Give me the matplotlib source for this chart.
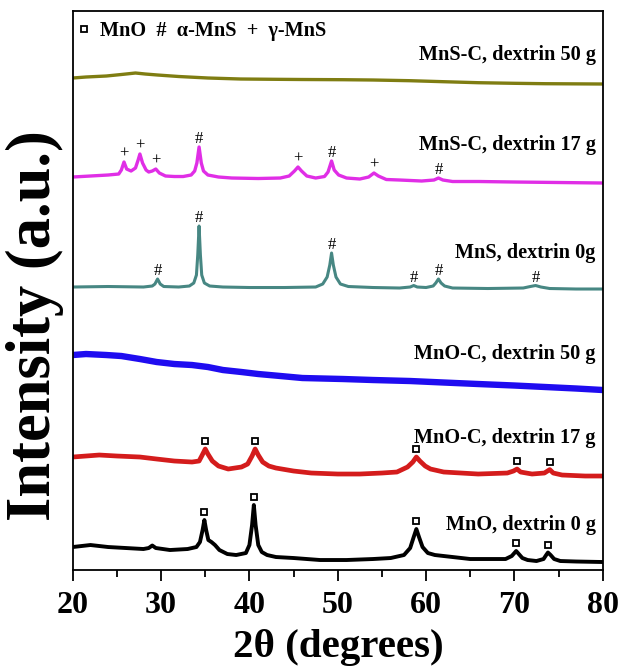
import numpy as np
import matplotlib
matplotlib.use("Agg")
import matplotlib.pyplot as plt
from matplotlib.ticker import MultipleLocator

plt.rcParams['font.family'] = ['Liberation Serif', 'DejaVu Serif']

mno_0_x = [20, 22, 24, 26, 28, 28.6, 29.0, 29.4, 31, 33, 34.0, 34.4, 34.7, 34.9, 35.1, 35.35,
           35.7, 36.1, 36.6, 37.5, 38.5, 39.6, 40.0, 40.3, 40.5, 40.7, 41.0, 41.4, 42.0, 43,
           45, 48, 51, 54, 56, 57.5, 58.2, 58.6, 58.9, 59.2, 59.6, 60.2, 61, 63, 65, 67, 69,
           69.7, 70.0, 70.2, 70.5, 70.9, 71.5, 72.5, 73.3, 73.6, 73.8, 74.1, 74.5, 75.2, 77, 80]
mno_0_y = [23, 25, 23, 22, 21, 22, 24.5, 22, 20, 21, 23, 28, 40, 50, 40, 30,
           28, 25, 20, 16, 15, 17, 25, 45, 65, 45, 25, 18, 15, 13,
           12, 10, 10, 11, 12, 15, 22, 33, 41, 33, 23, 17, 15, 13, 11, 11, 11,
           14, 17, 19, 16, 12, 10, 9, 11, 15, 17.5, 15, 11, 9, 8.5, 8]

mnoc_17_x = [20, 21.5, 23, 25, 27.6, 29.5, 31.5, 33.5, 34.3, 34.6, 35.0, 35.3, 35.8, 36.5,
             37.6, 39.1, 39.8, 40.3, 40.65, 41.0, 41.5, 42.2, 43, 45, 47, 50, 52.5, 55, 56.7,
             57.9, 58.5, 58.9, 59.3, 59.9, 60.5, 62, 65.9, 69.2, 69.9, 70.3, 70.7, 72, 73.4,
             74.0, 74.4, 75.4, 78, 80]
mnoc_17_y = [113, 114, 115, 114, 113, 111, 109, 108, 109, 114, 121, 116, 109, 104,
             101, 103, 106, 114, 121, 115, 108, 104, 102, 99, 97, 96, 96, 97, 98,
             103, 108, 113, 109, 104, 101, 98, 96, 97, 99, 101, 98, 96, 97,
             100.4, 97, 95, 94, 94]

mnoc_50_x = [20, 21.5, 23.8, 25.5, 27.6, 29.5, 31.5, 33.5, 35.3, 37, 39.1, 41, 42.9, 46,
             50.6, 54, 58.2, 62, 65.9, 70, 73.5, 77, 80]
mnoc_50_y = [215, 216, 215, 214, 211, 208, 206, 205, 203, 200, 198, 196, 194.5, 192,
             191, 190, 189, 187.5, 186, 184.5, 183, 181.5, 180]

mns_0_x = [20, 24, 28, 29.0, 29.3, 29.6, 29.9, 30.3, 32, 33.2, 33.7, 34.0, 34.15, 34.3, 34.45,
           34.6, 34.9, 35.5, 37, 40, 44, 47.5, 48.3, 48.8, 49.1, 49.3, 49.5, 49.8, 50.3, 51.2,
           54, 57, 58.2, 58.6, 59.0, 60, 60.8, 61.1, 61.4, 61.7, 62.1, 63, 67, 71, 71.8, 72.4,
           73.0, 74, 77, 80]
mns_0_y = [283, 283.5, 283, 284, 286, 291, 286, 283.5, 283, 284, 287, 295, 315, 344, 315,
           295, 287, 284, 283, 282.5, 282.5, 283, 286, 293, 305, 317, 305, 293, 286, 283.5,
           282.5, 282, 283, 284.5, 283, 282.5, 284, 287, 291, 287, 284, 282, 281.5, 282, 283.5, 284.5,
           283, 281.5, 281, 281]

mnsc_17_x = [20, 22, 24, 25.2, 25.5, 25.8, 26.1, 26.6, 27.1, 27.4, 27.6, 27.9, 28.3, 28.6, 29.0,
             29.4, 29.8, 30.5, 31.5, 32.5, 33.4, 33.8, 34.05, 34.3, 34.55, 34.8, 35.3, 36.5, 38,
             41, 43.5, 44.5, 45.1, 45.5, 45.9, 46.5, 47.5, 48.5, 48.9, 49.3, 49.6, 50.1, 51, 52.5,
             53.5, 54.1, 54.6, 55.5, 57, 59.5, 60.9, 61.4, 61.9, 63, 66, 70, 75, 80]
mnsc_17_y = [393, 394, 395, 396, 400, 408, 401, 399, 402, 410, 416, 407, 400, 398, 399,
             401, 397, 394, 393.5, 393.5, 395, 399, 407, 423, 407, 399, 395, 393, 392,
             391.5, 392, 394, 399, 403, 399, 394, 392, 393.5, 398, 409, 400, 395, 392, 391,
             393, 397, 394, 390.5, 390, 389, 390, 392, 390, 388.5, 388.5, 388, 387.5, 387]

mnsc_50_x = [20, 21.5, 23.8, 25.5, 27.1, 28.2, 29.6, 32, 35.3, 39, 42.9, 46, 50.6, 54, 58.2,
             62, 65.9, 70, 73.5, 80]
mnsc_50_y = [492, 493, 494, 495.5, 497, 496, 495, 493.5, 492, 491, 490.7, 490.5, 490.3, 490,
             489.3, 488.3, 487.3, 486.7, 486.3, 486]

# peak markers
mno_0_marks = [(34.9, 's'), (40.5, 's'), (58.9, 's'), (70.2, 's'), (73.8, 's')]
mnoc_17_marks = [(35.0, 's'), (40.65, 's'), (58.9, 's'), (70.3, 's'), (74.0, 's')]
mns_0_marks = [(29.6, '#'), (34.3, '#'), (49.3, '#'), (58.6, '#'), (61.4, '#'), (72.4, '#')]
mnsc_17_marks = [(25.8, '+'), (27.6, '+'), (29.4, '+'), (34.3, '#'), (45.5, '+'),
                 (49.3, '#'), (54.1, '+'), (61.4, '#')]

traces = [
    (mno_0_x, mno_0_y, '#000000', 2.8, 'MnO, dextrin 0 g', 45, mno_0_marks),
    (mnoc_17_x, mnoc_17_y, '#d41c1c', 3.4, 'MnO-C, dextrin 17 g', 132, mnoc_17_marks),
    (mnoc_50_x, mnoc_50_y, '#1f0cf0', 4.6, 'MnO-C, dextrin 50 g', 216, []),
    (mns_0_x, mns_0_y, '#478783', 2.2, 'MnS, dextrin 0g', 317, mns_0_marks),
    (mnsc_17_x, mnsc_17_y, '#e02ee6', 2.4, 'MnS-C, dextrin 17 g', 425, mnsc_17_marks),
    (mnsc_50_x, mnsc_50_y, '#7f7d12', 2.4, 'MnS-C, dextrin 50 g', 515, []),
]

fig = plt.figure(figsize=(6.22, 6.67), dpi=100)
ax = fig.add_axes([0.117, 0.1454, 0.852, 0.8381])

for xs, ys, col, lw, label, label_y, marks in traces:
    ax.plot(xs, ys, color=col, lw=lw, solid_joinstyle='round')
    ax.text(79.2, label_y, label, ha='right', va='center', fontsize=14.6, fontweight='bold')
    for ang, sym in marks:
        h = np.interp(ang, xs, ys)
        if sym == 's':
            ax.plot(ang, h + 8, marker='s', ms=4.5, mfc='white', mec='black', mew=1.3)
        else:
            ax.text(ang, h + 8, sym, ha='center', va='center', fontsize=12)

# legend line at the top
ax.plot(0.0217, 0.9687, marker='s', ms=4.5, mfc='white', mec='black', mew=1.3,
        transform=ax.transAxes, clip_on=False)
ax.text(0.051, 0.964, 'MnO  #  α-MnS  +  γ-MnS', transform=ax.transAxes,
        ha='left', va='center', fontsize=14.6, fontweight='bold')

ax.set_xlim(20, 80)
ax.set_ylim(0, 559)
ax.xaxis.set_major_locator(MultipleLocator(10))
ax.xaxis.set_minor_locator(MultipleLocator(5))
ax.tick_params(axis='x', which='major', direction='out', length=8, width=1.3,
               labelsize=23, pad=7)
ax.tick_params(axis='x', which='minor', direction='out', length=5, width=1.3)
ax.set_yticks([])
for lab in ax.get_xticklabels():
    lab.set_fontweight('bold')
for sp in ax.spines.values():
    sp.set_linewidth(1.3)

fig.text(338 / 622, 1 - 647 / 667, '2θ (degrees)', ha='center', va='center',
         fontsize=29.5, fontweight='bold')
fig.text(35 / 622, 1 - 326 / 667, 'Intensity (a.u.)', ha='center', va='center',
         rotation=90, fontsize=45, fontweight='bold')

fig.savefig('out.png', dpi=100)
